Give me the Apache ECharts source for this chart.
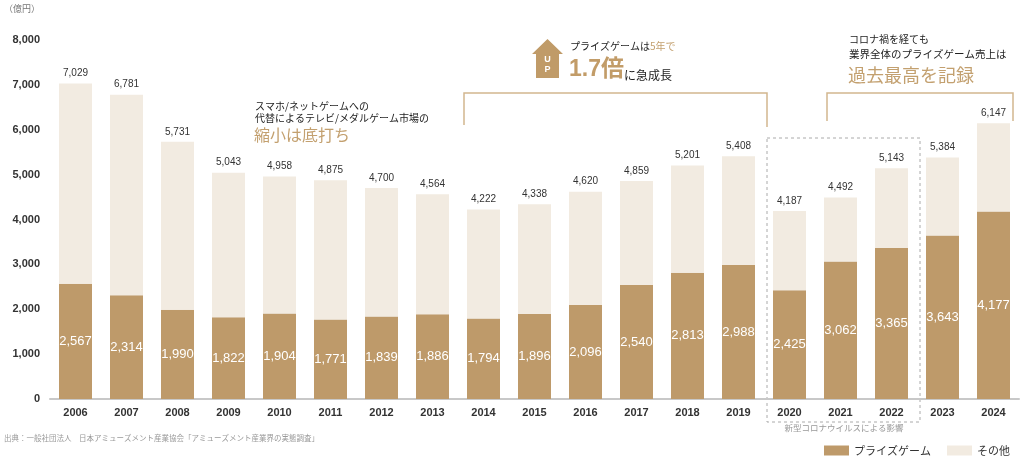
<!DOCTYPE html>
<html>
<head>
    <meta charset="UTF-8"/>
    <title>プライズゲーム市場規模の推移</title>
    <style>
        html, body { margin: 0; padding: 0; background: #fff; }
        #mainChart { width: 1024px; height: 457px; }
    </style>
</head>
<body>
<div id="mainChart"></div>
<script src="https://cdn.jsdelivr.net/npm/echarts@6/dist/echarts.min.js"></script>
<script type="text/javascript">
    // 年度
    const years = ["2006", "2007", "2008", "2009", "2010", "2011", "2012", "2013", "2014", "2015",
        "2016", "2017", "2018", "2019", "2020", "2021", "2022", "2023", "2024"];
    // プライズゲーム売上（億円）
    const prizeValues = [2567, 2314, 1990, 1822, 1904, 1771, 1839, 1886, 1794, 1896,
        2096, 2540, 2813, 2988, 2425, 3062, 3365, 3643, 4177];
    // 業界全体（億円）
    const totalValues = [7029, 6781, 5731, 5043, 4958, 4875, 4700, 4564, 4222, 4338,
        4620, 4859, 5201, 5408, 4187, 4492, 5143, 5384, 6147];
    // その他 = 全体 - プライズ
    const otherValues = totalValues.map(function (v, i) {
        return v - prizeValues[i];
    });
    const yTicks = [0, 1000, 2000, 3000, 4000, 5000, 6000, 7000, 8000];

    const FONT = "'Liberation Sans', 'Noto Sans CJK JP', sans-serif";
    const JP = "'Noto Sans CJK JP', sans-serif";
    const GOLD = "#be9a6a";
    const BEIGE = "#f2ebe1";
    const GOLD_TEXT = "#c3a06f";

    const fmt = function (v) {
        return Number(v).toLocaleString("en-US");
    };

    const chart = echarts.init(document.getElementById("mainChart"));
    const option = {
        animation: false,
        textStyle: {fontFamily: FONT},
        grid: {left: 50, right: 5, top: 40, bottom: 58},
        legend: {
            right: 14,
            top: 444,
            padding: 0,
            itemWidth: 25,
            itemHeight: 10,
            itemGap: 16,
            icon: "rect",
            textStyle: {fontFamily: JP, fontSize: 11, color: "#333", lineHeight: 13},
            data: ["プライズゲーム", "その他"]
        },
        xAxis: {
            type: "category",
            data: years,
            axisTick: {show: false},
            axisLine: {lineStyle: {color: "#c8c8c8", width: 2}},
            axisLabel: {fontSize: 11, fontWeight: "bold", color: "#333", margin: 8}
        },
        yAxis: {
            type: "value",
            min: yTicks[0],
            max: yTicks[yTicks.length - 1],
            interval: 1000,
            splitLine: {show: false},
            axisLabel: {
                fontSize: 11, fontWeight: "bold", color: "#333", margin: 10,
                formatter: function (v) { return fmt(v); }
            }
        },
        series: [{
            name: "プライズゲーム",
            type: "bar",
            stack: "total",
            barWidth: 33,
            itemStyle: {color: GOLD},
            label: {
                show: true,
                position: "inside",
                color: "#fff",
                fontSize: 13,
                formatter: function (p) { return fmt(p.value); }
            },
            data: prizeValues
        }, {
            name: "その他",
            type: "bar",
            stack: "total",
            barWidth: 33,
            itemStyle: {color: BEIGE},
            label: {
                show: true,
                position: "top",
                distance: 5,
                color: "#333",
                fontSize: 10,
                formatter: function (p) { return fmt(totalValues[p.dataIndex]); }
            },
            data: otherValues
        }],
        graphic: [
            // 単位
            {type: "text", left: 4, top: 4,
                style: {text: "（億円）", fill: "#777", font: "9px " + JP}},
            // 出典
            {type: "text", left: 4, top: 434,
                style: {text: "出典：一般社団法人　日本アミューズメント産業協会「アミューズメント産業界の実態調査」",
                    fill: "#999", font: "7.5px " + JP}},
            // コロナ影響の点線枠
            {type: "rect", shape: {x: 767, y: 138, width: 153, height: 284},
                style: {fill: "none", stroke: "#aaa", lineWidth: 1, lineDash: [3, 3]}},
            {type: "text", x: 844, y: 428,
                style: {text: "新型コロナウイルスによる影響", fill: "#999", font: "8.5px " + JP,
                    textAlign: "center", textVerticalAlign: "middle"}},
            // ブラケット
            {type: "polyline", shape: {points: [[464, 125], [464, 93], [767, 93], [767, 127]]},
                style: {stroke: "#d2b68f", lineWidth: 1.5, fill: "none"}},
            {type: "polyline", shape: {points: [[827, 121], [827, 93], [1013, 93], [1013, 121]]},
                style: {stroke: "#d2b68f", lineWidth: 1.5, fill: "none"}},
            // 左の注記
            {type: "text", x: 255, y: 106,
                style: {text: "スマホ/ネットゲームへの", fill: "#222", font: "10px " + JP, textVerticalAlign: "middle"}},
            {type: "text", x: 255, y: 118,
                style: {text: "代替によるテレビ/メダルゲーム市場の", fill: "#222", font: "10px " + JP, textVerticalAlign: "middle"}},
            {type: "text", x: 254, y: 135,
                style: {text: "縮小は底打ち", fill: GOLD_TEXT, font: "16px " + JP, textVerticalAlign: "middle"}},
            // UP矢印
            {type: "polygon",
                shape: {points: [[547.5, 39], [563, 54], [559, 54], [559, 78], [536, 78], [536, 54], [532, 54]]},
                style: {fill: "#c09b68"}},
            {type: "text", x: 547.5, y: 60,
                style: {text: "U", fill: "#fff", font: "bold 9px " + FONT, textAlign: "center", textVerticalAlign: "middle"}},
            {type: "text", x: 547.5, y: 70,
                style: {text: "P", fill: "#fff", font: "bold 9px " + FONT, textAlign: "center", textVerticalAlign: "middle"}},
            // 中央の注記
            {type: "text", x: 570, y: 46,
                style: {
                    text: "{a|プライズゲームは}{b|5年で}",
                    textVerticalAlign: "middle",
                    rich: {
                        a: {fontFamily: JP, fontSize: 10, fill: "#222"},
                        b: {fontFamily: JP, fontSize: 10, fill: GOLD_TEXT}
                    }
                }},
            {type: "text", x: 569, y: 68,
                style: {
                    text: "{a|1.7倍}{b|に急成長}",
                    textVerticalAlign: "middle",
                    rich: {
                        a: {fontFamily: FONT, fontSize: 23, fontWeight: "bold", fill: "#c29c68", verticalAlign: "bottom", lineHeight: 26},
                        b: {fontFamily: JP, fontSize: 12, fill: "#222", verticalAlign: "bottom", lineHeight: 18}
                    }
                }},
            // 右の注記
            {type: "text", x: 849, y: 39,
                style: {text: "コロナ禍を経ても", fill: "#222", font: "10px " + JP, textVerticalAlign: "middle"}},
            {type: "text", x: 849, y: 54,
                style: {text: "業界全体のプライズゲーム売上は", fill: "#222", font: "10.5px " + JP, textVerticalAlign: "middle"}},
            {type: "text", x: 848, y: 75,
                style: {text: "過去最高を記録", fill: GOLD_TEXT, font: "18px " + JP, textVerticalAlign: "middle"}}
        ]
    };
    chart.setOption(option);
</script>
</body>
</html>
